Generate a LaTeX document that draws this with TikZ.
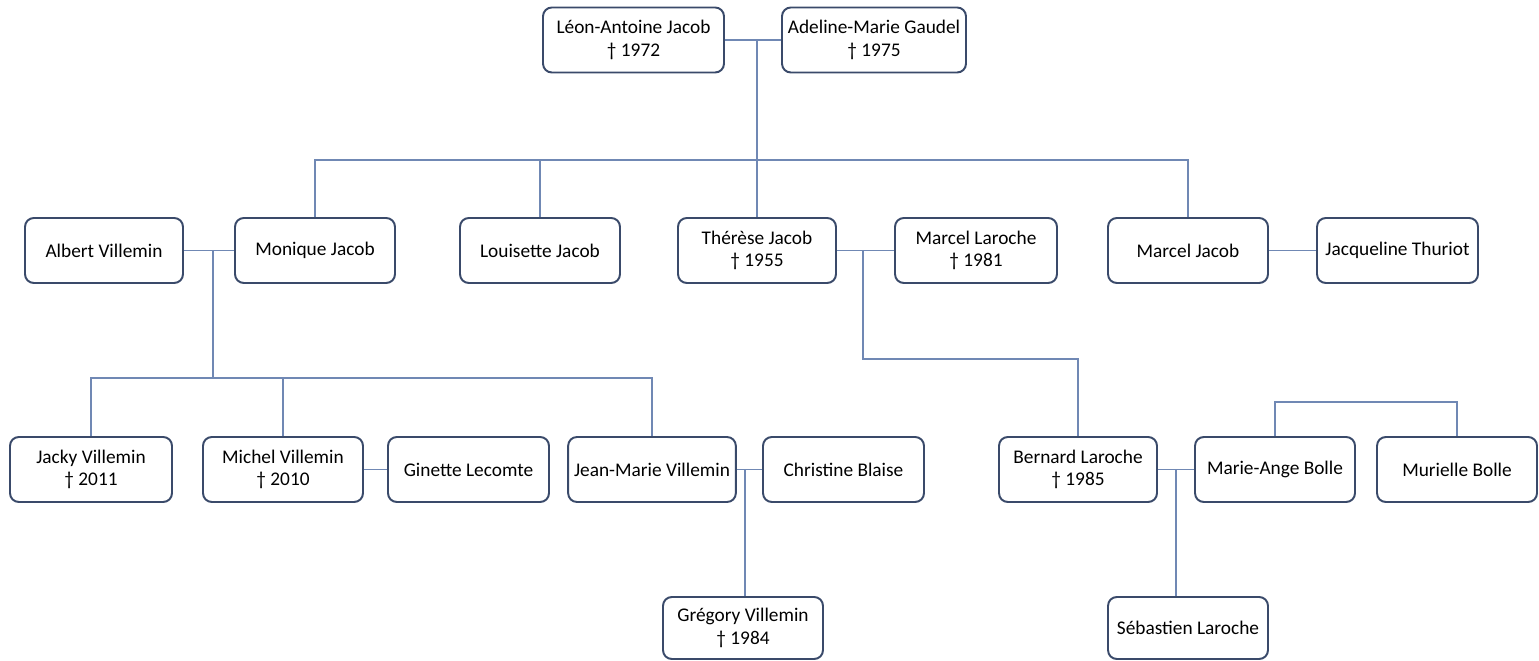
\documentclass[tikz,border=0pt]{standalone}
\usepackage{fontspec}
\setmainfont{Carlito}
\usepackage{tikz}
\usetikzlibrary{positioning}
\definecolor{boxline}{RGB}{58,74,106}
\definecolor{linkline}{RGB}{112,136,180}
\tikzset{
  person/.style={draw=boxline,line width=1.1pt,rounded corners=5pt,fill=white,
    minimum width=3.2cm,minimum height=1.3cm,align=center,
    font=\fontsize{11}{13}\selectfont},
  link/.style={draw=linkline,line width=0.8pt}
}

\begin{document}
\begin{tikzpicture}[x=0.02cm,y=-0.02cm]
\useasboundingbox (0,0) rectangle (1539,661);
%generation 1
\node[person,minimum width=3.62cm] (leon) at (633.5,40) {Léon-Antoine Jacob\\† 1972};
\node[person,minimum width=3.64cm] (adeline) at (874,40) {Adeline-Marie Gaudel\\† 1975};
%generation 2
\node[person,minimum width=3.16cm] (albert) at (104,250.5) {Albert Villemin};
\node[person] (monique) at (315,250.5) {Monique Jacob};
\node[person] (louisette) at (540,250.5) {Louisette Jacob};
\node[person,minimum width=3.16cm] (therese) at (757,250.5) {Thérèse Jacob\\† 1955};
\node[person,minimum width=3.24cm] (marcell) at (976,250.5) {Marcel Laroche\\† 1981};
\node[person] (marcelj) at (1188,250.5) {Marcel Jacob};
\node[person,minimum width=3.22cm] (jacqueline) at (1397.5,250.5) {Jacqueline Thuriot};
%generation 3
\node[person,minimum width=3.24cm] (jacky) at (91,469.5) {Jacky Villemin\\† 2011};
\node[person] (michel) at (283,469.5) {Michel Villemin\\† 2010};
\node[person,minimum width=3.22cm] (ginette) at (468.5,469.5) {Ginette Lecomte};
\node[person] (jeanmarie) at (652,469.5) {Jean-Marie Villemin};
\node[person,minimum width=3.22cm] (christine) at (843.5,469.5) {Christine Blaise};
\node[person,minimum width=3.16cm] (bernard) at (1078,469.5) {Bernard Laroche\\† 1985};
\node[person] (marieange) at (1275,469.5) {Marie-Ange Bolle};
\node[person] (murielle) at (1457,469.5) {Murielle Bolle};
%generation 4
\node[person,minimum height=1.24cm] (gregory) at (743,628) {Grégory Villemin\\† 1984};
\node[person,minimum height=1.24cm] (sebastien) at (1188,628) {Sébastien Laroche};
%couples
\draw[link] (leon) -- (adeline);
\draw[link] (albert) -- (monique);
\draw[link] (therese) -- (marcell);
\draw[link] (marcelj) -- (jacqueline);
\draw[link] (michel) -- (ginette);
\draw[link] (jeanmarie) -- (christine);
\draw[link] (bernard) -- (marieange);
%children of Leon-Antoine and Adeline-Marie
\coordinate (la) at (757,40);
\coordinate (labus) at (757,160);
\draw[link] (la) -- (labus);
\draw[link] (monique.north) |- (labus) -| (marcelj.north);
\draw[link] (louisette.north) -- (louisette.north |- labus);
\draw[link] (labus) -- (labus |- therese.north);
%children of Albert and Monique
\coordinate (am) at (213,250.5);
\coordinate (ambus) at (213,378);
\draw[link] (am) -- (ambus);
\draw[link] (jacky.north) |- (ambus) -| (jeanmarie.north);
\draw[link] (michel.north) -- (michel.north |- ambus);
%child of Therese and Marcel
\coordinate (tm) at (863,250.5);
\draw[link] (tm) -- ++(0,108.5) -| (bernard.north);
%child of Jean-Marie and Christine
\coordinate (jc) at (745,469.5);
\draw[link] (jc) -- (jc |- gregory.north);
%child of Bernard and Marie-Ange
\coordinate (bm) at (1176,469.5);
\draw[link] (bm) -- (bm |- sebastien.north);
%sisters
\draw[link] (marieange.north) -- ++(0,-34) -| (murielle.north);
\end{tikzpicture}
\end{document}
